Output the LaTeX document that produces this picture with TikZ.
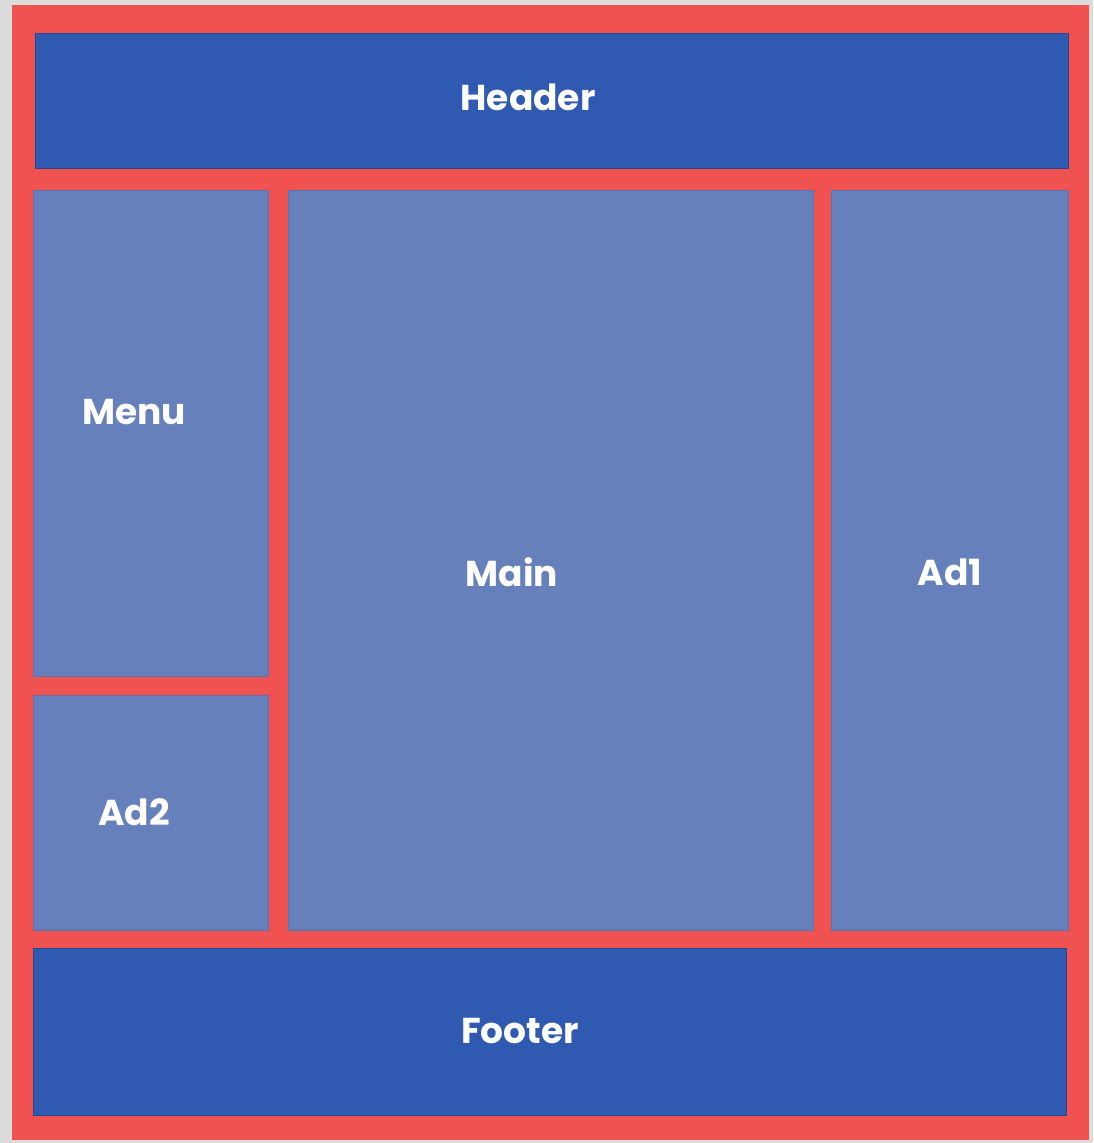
\documentclass[tikz,border=0pt]{standalone}
\usepackage{fontspec}
\setmainfont{Poppins}
\definecolor{bgray}{HTML}{DCDCDC}
\definecolor{fred}{HTML}{F05252}
\definecolor{dblue}{HTML}{3059B1}
\definecolor{lblue}{HTML}{6680BC}
\tikzset{
  darkbox/.style={fill=dblue, draw=dblue!80!black, line width=1pt},
  lightbox/.style={fill=lblue, draw=lblue!90!black, line width=0.6pt},
  lbl/.style={text=white, font=\fontsize{36}{40}\selectfont\bfseries}
}
\begin{document}
\begin{tikzpicture}[x=1pt,y=-1pt]
\useasboundingbox (0,0) rectangle (1093,1143);
\fill[bgray] (0,0) rectangle (1093,1143);
\fill[fred] (12,5) rectangle (1089,1140);
\draw[darkbox] (35,33) rectangle (1068,168);
\draw[lightbox] (33,190) rectangle (268,676);
\draw[lightbox] (33,695) rectangle (268,930);
\draw[lightbox] (288,190) rectangle (813,930);
\draw[lightbox] (831,190) rectangle (1068,930);
\draw[darkbox] (33,948) rectangle (1066,1115);
\node[lbl] (header) at (528,97) {Header};
\node[lbl] (menu) at (134,412) {Menu};
\node[lbl] (ad2) at (134,812) {Ad2};
\node[lbl] (main) at (512,572) {Main};
\node[lbl] (ad1) at (950,572) {Ad1};
\node[lbl] (footer) at (520,1031) {Footer};
\end{tikzpicture}
\end{document}
